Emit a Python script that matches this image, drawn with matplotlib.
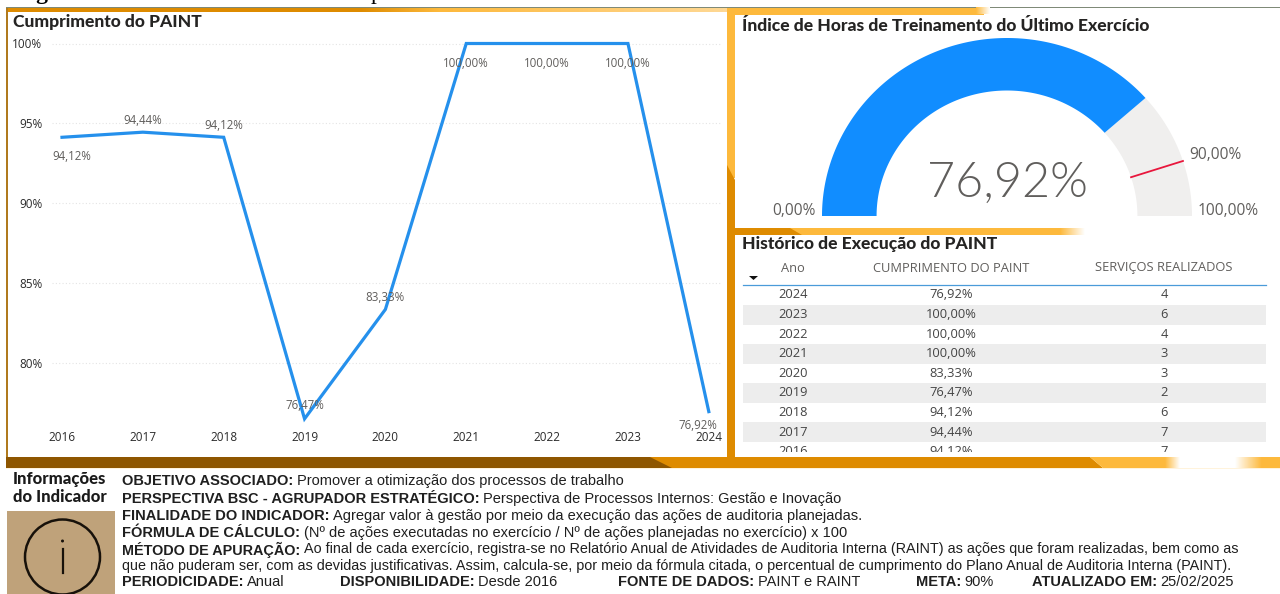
# plot.py - painel de cumprimento do PAINT

import numpy as np
import matplotlib
matplotlib.use("Agg")
import matplotlib.pyplot as plt
from matplotlib.colors import LinearSegmentedColormap
from matplotlib.patches import Circle, Polygon, Rectangle

W, H = 1280, 594

years = [2016, 2017, 2018, 2019, 2020, 2021, 2022, 2023, 2024]
cumprimento = [94.12, 94.44, 94.12, 76.47, 83.33, 100.0, 100.0, 100.0, 76.92]
servicos = [7, 7, 6, 2, 3, 3, 4, 6, 4]
y_ticks = [80, 85, 90, 95, 100]

gauge_value = 76.92
gauge_target = 90.0
gauge_min = 0.0
gauge_max = 100.0

table_headers = ["Ano", "CUMPRIMENTO DO PAINT", "SERVIÇOS REALIZADOS"]

info_lines = [
    [("OBJETIVO ASSOCIADO:", "Promover a otimização dos processos de trabalho")],
    [("PERSPECTIVA BSC - AGRUPADOR ESTRATÉGICO:", "Perspectiva de Processos Internos: Gestão e Inovação")],
    [("FINALIDADE DO INDICADOR:", "Agregar valor à gestão por meio da execução das ações de auditoria planejadas.")],
    [("FÓRMULA DE CÁLCULO:", "(Nº de ações executadas no exercício / Nº de ações planejadas no exercício) x 100")],
    [("MÉTODO DE APURAÇÃO:", "Ao final de cada exercício, registra-se no Relatório Anual de Atividades de Auditoria Interna (RAINT) as ações que foram realizadas, bem como as")],
    [("", "que não puderam ser, com as devidas justificativas. Assim, calcula-se, por meio da fórmula citada, o percentual de cumprimento do Plano Anual de Auditoria Interna (PAINT).")],
]
footer = [
    ("PERIODICIDADE:", "Anual"),
    ("DISPONIBILIDADE:", "Desde 2016"),
    ("FONTE DE DADOS:", "PAINT e RAINT"),
    ("META:", "90%"),
    ("ATUALIZADO EM:", "25/02/2025"),
]

BROWN = "#8E5600"
ORANGE = "#DE8B00"
YELLOW = "#FDB93C"
BLUE = "#118DFF"
LINE_BLUE = "#2590EC"
GREY = "#605E5C"


def pct(v):
    return f"{v:.2f}%".replace(".", ",")


def px_axes(fig, x0, y0, x1, y1):
    return fig.add_axes([x0 / W, 1 - y1 / H, (x1 - x0) / W, (y1 - y0) / H])


def gradient(ax, x0, x1, y0, y1, c0, c1, z=1):
    cmap = LinearSegmentedColormap.from_list("band", [c0, c1])
    ax.imshow(np.linspace(0, 1, 64).reshape(1, -1), cmap=cmap, aspect="auto",
              extent=(x0, x1, y1, y0), zorder=z)


def draw_frame(bg):
    # faixa superior
    bg.add_patch(Rectangle((6, 7), 1274, 1.2, color="#7F8A78", lw=0, zorder=2))
    gradient(bg, 7, 360, 8, 12, ORANGE, ORANGE)
    gradient(bg, 360, 440, 8, 12, ORANGE, YELLOW)
    gradient(bg, 440, 727, 8, 12, YELLOW, "#FFD894")
    bg.add_patch(Rectangle((727, 8), 257, 6.5, color=YELLOW, lw=0))
    gradient(bg, 976, 990, 8, 14.5, YELLOW, "#FFFFFF", z=2)

    # borda esquerda
    bg.add_patch(Rectangle((6, 8), 2, 449, color="#B07A1E", lw=0))

    # coluna central
    bg.add_patch(Rectangle((727, 8), 8, 170, color=YELLOW, lw=0))
    bg.add_patch(Polygon([(727, 165), (735, 180), (735, 457), (727, 457)], color=ORANGE, lw=0))

    # faixa entre medidor e tabela
    bg.add_patch(Rectangle((735, 228), 330, 7, color=YELLOW, lw=0))
    bg.add_patch(Polygon([(735, 228), (790, 228), (802, 235), (735, 235)], color=ORANGE, lw=0))
    gradient(bg, 1060, 1085, 228, 235, YELLOW, "#FFFFFF", z=2)

    # faixa inferior
    bg.add_patch(Rectangle((6, 457), 670, 11, color=BROWN, lw=0, zorder=1))
    bg.add_patch(Polygon([(650, 457), (1090, 457), (1103, 468), (672, 468)], color=ORANGE, lw=0, zorder=2))
    bg.add_patch(Polygon([(1090, 457), (1168, 457), (1172, 468), (1103, 468)], color=YELLOW, lw=0, zorder=2))
    gradient(bg, 1165, 1180, 457, 468, YELLOW, "#FFFFFF", z=3)
    gradient(bg, 1235, 1262, 457, 468, "#FFFFFF", YELLOW, z=3)
    bg.add_patch(Rectangle((1262, 457), 18, 11, color=YELLOW, lw=0, zorder=3))
    bg.add_patch(Rectangle((6, 468), 1274, 1.2, color="#FFF3DC", lw=0, zorder=3))


def draw_line_chart(fig):
    left, right, top, bottom = 52, 722, 30, 431
    ax = px_axes(fig, left, top, right, bottom)
    ax.patch.set_alpha(0)
    ax.set_xlim(2016 + (left - 62) / 80.85, 2016 + (right - 62) / 80.85)
    ax.set_ylim(100 - (bottom - 43.5) / 15.95, 100 + (43.5 - top) / 15.95)

    ax.plot(years, cumprimento, color=LINE_BLUE, lw=2.3, solid_joinstyle="miter", clip_on=False, zorder=3)

    ax.set_xticks(years)
    ax.set_yticks(y_ticks)
    ax.set_yticklabels([f"{t}%" for t in y_ticks])
    ax.tick_params(axis="both", length=0, labelsize=8.5, labelcolor="#2B2B2B")
    for lab in ax.get_xticklabels() + ax.get_yticklabels():
        lab.set_family("Open Sans")
    ax.tick_params(axis="y", pad=7)
    ax.tick_params(axis="x", pad=0)
    ax.grid(axis="y", color="#E4E4E4", lw=0.8, ls=(0, (1, 2)))
    ax.set_axisbelow(True)
    for s in ax.spines.values():
        s.set_visible(False)

    # deslocamento de cada rótulo em relação ao ponto, em pontos
    offsets = [(7, -9), (0, 4), (0, 4), (0, 5), (0, 4), (0, -10), (0, -10), (0, -10), (-8, -5)]
    for yr, v, off in zip(years, cumprimento, offsets):
        ax.annotate(pct(v), (yr, v), xytext=off, textcoords="offset points",
                    ha="center", va="bottom" if off[1] > 0 else "top", family="Open Sans",
                    fontsize=8.3, color=GREY, annotation_clip=False, zorder=4)


def draw_gauge(fig):
    ax = px_axes(fig, 822, 38, 1192, 216)
    ax.set_xlim(-1, 1)
    ax.set_ylim(0, 1)
    ax.axis("off")
    inner = 0.705

    def arc(a, b, color):
        th = np.pi * (1 - np.linspace(a, b, 200) / gauge_max)
        xs = np.r_[np.cos(th), inner * np.cos(th[::-1])]
        ys = np.r_[np.sin(th), inner * np.sin(th[::-1])]
        ax.add_patch(Polygon(np.c_[xs, ys], color=color, lw=0, clip_on=False))

    arc(gauge_value, gauge_max, "#F0EFEE")
    arc(gauge_min, gauge_value, BLUE)

    th = np.pi * (1 - gauge_target / gauge_max)
    ax.plot([inner * np.cos(th), np.cos(th)], [inner * np.sin(th), np.sin(th)],
            color="#E8163C", lw=1.3, clip_on=False, zorder=3)


def draw_table(bg):
    xs = [793, 951.5, 1164]
    kw = dict(fontsize=9.3, ha="center", va="center", family="Open Sans", zorder=5)
    for x, head in zip(xs, table_headers):
        bg.text(x, 268, head, color=GREY, **kw)
    bg.add_patch(Polygon([(749, 276), (758, 276), (753.5, 280)], color="#111111", lw=0, zorder=5))
    bg.plot([743, 1266], [285, 285], color="#4A9BD9", lw=0.9, zorder=5)

    # linhas do ano mais recente para o mais antigo
    for i, (yr, v, n) in enumerate(zip(years[::-1], cumprimento[::-1], servicos[::-1])):
        yc = 295 + i * 19.6
        if i % 2 == 1:
            bg.add_patch(Rectangle((743, yc - 10), 523, 20, color="#EDEDED", lw=0, zorder=1))
        for x, s in zip(xs, [str(yr), pct(v), str(n)]):
            bg.text(x, yc, s, color="#444444", **kw)
    bg.add_patch(Rectangle((735, 452), 545, 5, color="white", lw=0, zorder=6))


def draw_info(bg, renderer):
    head = dict(fontsize=12, fontweight=900, family="Lato", color="#1A1A1A", va="center", zorder=5)
    bg.text(13, 479, "Informações", **head)
    bg.text(13, 497, "do Indicador", **head)

    # painel do ícone
    bg.add_patch(Rectangle((7, 511), 108, 83, color="#BFA27A", lw=0, zorder=1))
    bg.add_patch(Circle((62.5, 557), 37.5, fc="none", ec="#17110A", lw=1.8, zorder=5))
    bg.add_patch(Circle((62.5, 541), 1.5, color="#17110A", lw=0, zorder=5))
    bg.plot([62.5, 62.5], [549, 573], color="#17110A", lw=1.6, zorder=5)

    def segment(x, y, label, text, size=10.5):
        kw = dict(fontsize=size, family="Liberation Sans", color="#1F1F1F", va="center", zorder=5)
        if label:
            t = bg.text(x, y, label, fontweight="bold", **kw)
            x += t.get_window_extent(renderer).width + 3.5
        bg.text(x, y, text, **kw)

    ys = [481, 499, 516, 533, 549.5, 566]
    for y, line in zip(ys, info_lines):
        for label, text in line:
            # as duas linhas longas ficam um pouco menores para caber no painel
            segment(122, y, label, text, size=10.4 if len(text) > 120 else 10.5)

    foot_x = [122, 340, 618, 916, 1032]
    for x, (label, text) in zip(foot_x, footer):
        segment(x, 582.5, label, text)


def main():
    fig = plt.figure(figsize=(W / 100, H / 100), dpi=100, facecolor="white")
    bg = fig.add_axes([0, 0, 1, 1])
    bg.axis("off")
    renderer = fig.canvas.get_renderer()

    draw_frame(bg)

    # legenda da figura, cortada pela borda da página
    bg.text(16, -0.5, "Figura", fontsize=17, fontweight="bold", family="Liberation Serif", color="black", va="baseline", clip_on=True)
    bg.text(371, -0.5, "p", fontsize=17, family="Liberation Serif", color="black", va="baseline", clip_on=True)

    title = dict(fontsize=12.6, fontweight=900, family="Lato", color="#252423", va="center", zorder=6)
    bg.text(13, 22, "Cumprimento do PAINT", **title)
    bg.text(742, 26, "Índice de Horas de Treinamento do Último Exercício", **title)
    bg.text(742, 244, "Histórico de Execução do PAINT", **title)

    # rótulos do medidor
    gauge_kw = dict(fontsize=11.2, color=GREY, va="center", family="Open Sans", zorder=6)
    bg.text(816, 211, pct(gauge_min), ha="right", **gauge_kw)
    bg.text(1189, 155, pct(gauge_target), ha="left", **gauge_kw)
    bg.text(1198, 211, pct(gauge_max), ha="left", **gauge_kw)

    draw_table(bg)
    draw_info(bg, renderer)

    bg.set_xlim(0, W)
    bg.set_ylim(H, 0)

    draw_line_chart(fig)
    draw_gauge(fig)

    # valor central por cima do arco
    fig.text(1007 / W, 1 - 183 / H, pct(gauge_value), fontsize=35, color=GREY, ha="center", va="center",
             family="Lato", fontweight=300)

    fig.savefig("out.png", dpi=100)


if __name__ == "__main__":
    main()
